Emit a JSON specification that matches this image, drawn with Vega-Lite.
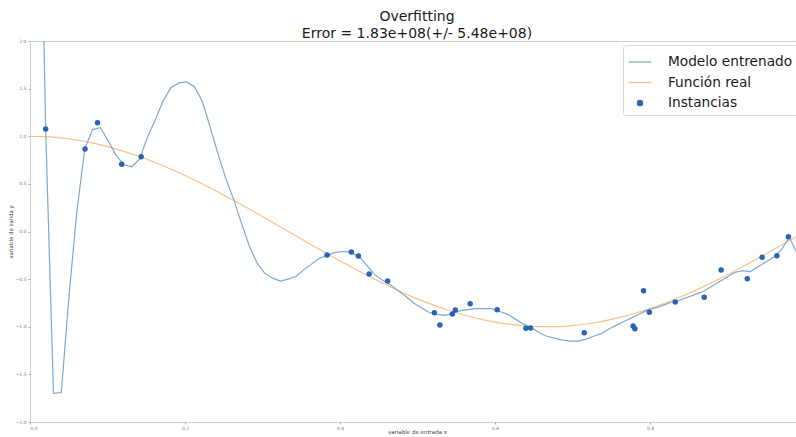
{
  "$schema": "https://vega.github.io/schema/vega-lite/v6.json",
  "autosize": "none",
  "width": 766,
  "height": 381,
  "padding": {"left": 30, "top": 41, "right": 0, "bottom": 15},
  "background": "white",
  "config": {
    "font": "DejaVu Sans",
    "view": {"stroke": "#cfcfcf", "strokeWidth": 1}
  },
  "title": {
    "text": ["Overfitting", "Error = 1.83e+08(+/- 5.48e+08)"],
    "anchor": "middle",
    "fontSize": 14,
    "fontWeight": "normal",
    "font": "DejaVu Sans",
    "color": "#1a1a1a",
    "lineHeight": 16.5,
    "offset": -2.5,
    "dx": 4
  },
  "datasets": {
    "modelo": [
      {"x": 0, "y": 12}, {"x": 0.0101, "y": 5.4}, {"x": 0.0202, "y": 1.07}, {"x": 0.0303, "y": -1.70},
      {"x": 0.0404, "y": -1.69}, {"x": 0.0505, "y": -0.66}, {"x": 0.0606, "y": 0.22}, {"x": 0.0707, "y": 0.87},
      {"x": 0.0808, "y": 1.07}, {"x": 0.0909, "y": 1.09}, {"x": 0.1010, "y": 0.95}, {"x": 0.1111, "y": 0.80},
      {"x": 0.1212, "y": 0.70}, {"x": 0.1313, "y": 0.68}, {"x": 0.1414, "y": 0.76}, {"x": 0.1515, "y": 0.99},
      {"x": 0.1616, "y": 1.17}, {"x": 0.1717, "y": 1.37}, {"x": 0.1818, "y": 1.51}, {"x": 0.1919, "y": 1.56},
      {"x": 0.2020, "y": 1.57}, {"x": 0.2121, "y": 1.52}, {"x": 0.2222, "y": 1.37}, {"x": 0.2323, "y": 1.10},
      {"x": 0.2424, "y": 0.82}, {"x": 0.2525, "y": 0.56}, {"x": 0.2626, "y": 0.34}, {"x": 0.2727, "y": 0.09},
      {"x": 0.2828, "y": -0.15}, {"x": 0.2929, "y": -0.33}, {"x": 0.3030, "y": -0.44}, {"x": 0.3131, "y": -0.49},
      {"x": 0.3232, "y": -0.52}, {"x": 0.3333, "y": -0.50}, {"x": 0.3434, "y": -0.47}, {"x": 0.3535, "y": -0.40},
      {"x": 0.3636, "y": -0.34}, {"x": 0.3737, "y": -0.28}, {"x": 0.3838, "y": -0.25}, {"x": 0.3939, "y": -0.22},
      {"x": 0.4040, "y": -0.21}, {"x": 0.4141, "y": -0.22}, {"x": 0.4242, "y": -0.26}, {"x": 0.4343, "y": -0.35},
      {"x": 0.4444, "y": -0.45}, {"x": 0.4545, "y": -0.51}, {"x": 0.4646, "y": -0.56}, {"x": 0.4747, "y": -0.62},
      {"x": 0.4848, "y": -0.68}, {"x": 0.4949, "y": -0.75}, {"x": 0.5051, "y": -0.80}, {"x": 0.5152, "y": -0.85},
      {"x": 0.5253, "y": -0.87}, {"x": 0.5354, "y": -0.88}, {"x": 0.5455, "y": -0.86}, {"x": 0.5556, "y": -0.83},
      {"x": 0.5657, "y": -0.82}, {"x": 0.5758, "y": -0.81}, {"x": 0.5859, "y": -0.81}, {"x": 0.5960, "y": -0.81},
      {"x": 0.6061, "y": -0.84}, {"x": 0.6162, "y": -0.87}, {"x": 0.6263, "y": -0.92}, {"x": 0.6364, "y": -0.97},
      {"x": 0.6465, "y": -1.01}, {"x": 0.6566, "y": -1.06}, {"x": 0.6667, "y": -1.10}, {"x": 0.6768, "y": -1.12},
      {"x": 0.6869, "y": -1.14}, {"x": 0.6970, "y": -1.15}, {"x": 0.7071, "y": -1.15}, {"x": 0.7172, "y": -1.13},
      {"x": 0.7273, "y": -1.10}, {"x": 0.7374, "y": -1.07}, {"x": 0.7475, "y": -1.02}, {"x": 0.7576, "y": -0.98},
      {"x": 0.7677, "y": -0.94}, {"x": 0.7778, "y": -0.90}, {"x": 0.7879, "y": -0.86}, {"x": 0.7980, "y": -0.82},
      {"x": 0.8081, "y": -0.80}, {"x": 0.8182, "y": -0.77}, {"x": 0.8283, "y": -0.74}, {"x": 0.8384, "y": -0.72},
      {"x": 0.8485, "y": -0.69}, {"x": 0.8586, "y": -0.66}, {"x": 0.8687, "y": -0.63}, {"x": 0.8788, "y": -0.58},
      {"x": 0.8889, "y": -0.53}, {"x": 0.8990, "y": -0.48}, {"x": 0.9091, "y": -0.43}, {"x": 0.9192, "y": -0.41},
      {"x": 0.9293, "y": -0.42}, {"x": 0.9394, "y": -0.37}, {"x": 0.9495, "y": -0.32}, {"x": 0.9596, "y": -0.27},
      {"x": 0.9697, "y": -0.19}, {"x": 0.9798, "y": -0.06}, {"x": 0.9899, "y": -0.23}, {"x": 1.0, "y": -0.75}
    ],
    "real": [
      {"x": 0.00, "y": 1.0}, {"x": 0.02, "y": 0.99556}, {"x": 0.04, "y": 0.98229}, {"x": 0.06, "y": 0.96029},
      {"x": 0.08, "y": 0.92978}, {"x": 0.10, "y": 0.89101}, {"x": 0.12, "y": 0.84433}, {"x": 0.14, "y": 0.79016},
      {"x": 0.16, "y": 0.72897}, {"x": 0.18, "y": 0.66131}, {"x": 0.20, "y": 0.58779}, {"x": 0.22, "y": 0.50904},
      {"x": 0.24, "y": 0.42578}, {"x": 0.26, "y": 0.33874}, {"x": 0.28, "y": 0.24869}, {"x": 0.30, "y": 0.15643},
      {"x": 0.32, "y": 0.06279}, {"x": 0.34, "y": -0.03141}, {"x": 0.36, "y": -0.12533}, {"x": 0.38, "y": -0.21814},
      {"x": 0.40, "y": -0.30902}, {"x": 0.42, "y": -0.39715}, {"x": 0.44, "y": -0.48175}, {"x": 0.46, "y": -0.56208},
      {"x": 0.48, "y": -0.63742}, {"x": 0.50, "y": -0.70711}, {"x": 0.52, "y": -0.77051}, {"x": 0.54, "y": -0.82708},
      {"x": 0.56, "y": -0.87631}, {"x": 0.58, "y": -0.91775}, {"x": 0.60, "y": -0.95106}, {"x": 0.62, "y": -0.97592},
      {"x": 0.64, "y": -0.99211}, {"x": 0.66, "y": -0.99951}, {"x": 0.68, "y": -0.99803}, {"x": 0.70, "y": -0.98769},
      {"x": 0.72, "y": -0.96858}, {"x": 0.74, "y": -0.94088}, {"x": 0.76, "y": -0.90483}, {"x": 0.78, "y": -0.86074},
      {"x": 0.80, "y": -0.80902}, {"x": 0.82, "y": -0.75011}, {"x": 0.84, "y": -0.68455}, {"x": 0.86, "y": -0.61291},
      {"x": 0.88, "y": -0.53583}, {"x": 0.90, "y": -0.45399}, {"x": 0.92, "y": -0.36812}, {"x": 0.94, "y": -0.27899},
      {"x": 0.96, "y": -0.18738}, {"x": 0.98, "y": -0.09411}, {"x": 1.00, "y": 0.0}
    ],
    "instancias": [
      {"x": 0.0202, "y": 1.076}, {"x": 0.0710, "y": 0.866}, {"x": 0.0871, "y": 1.142}, {"x": 0.1183, "y": 0.706},
      {"x": 0.1434, "y": 0.785}, {"x": 0.3834, "y": -0.247}, {"x": 0.4147, "y": -0.215}, {"x": 0.4237, "y": -0.257},
      {"x": 0.4376, "y": -0.446}, {"x": 0.4615, "y": -0.520}, {"x": 0.5218, "y": -0.853}, {"x": 0.5289, "y": -0.982},
      {"x": 0.5449, "y": -0.866}, {"x": 0.5488, "y": -0.824}, {"x": 0.5680, "y": -0.758}, {"x": 0.6028, "y": -0.821},
      {"x": 0.6399, "y": -1.016}, {"x": 0.6459, "y": -1.013}, {"x": 0.7152, "y": -1.062}, {"x": 0.7782, "y": -0.992},
      {"x": 0.7805, "y": -1.020}, {"x": 0.7917, "y": -0.622}, {"x": 0.7992, "y": -0.848}, {"x": 0.8326, "y": -0.740},
      {"x": 0.8700, "y": -0.691}, {"x": 0.8918, "y": -0.404}, {"x": 0.9256, "y": -0.496}, {"x": 0.9447, "y": -0.271},
      {"x": 0.9637, "y": -0.254}, {"x": 0.9786, "y": -0.055}
    ]
  },
  "encoding": {
    "x": {
      "field": "x", "type": "quantitative",
      "scale": {"domain": [0, 0.9884], "nice": false, "zero": false},
      "axis": {
        "title": "variable de entrada x",
        "values": [0, 0.2, 0.4, 0.6, 0.8],
        "format": ".1f",
        "grid": false,
        "domain": false,
        "labelFontSize": 4.5,
        "labelColor": "#777777",
        "tickColor": "#aaaaaa",
        "tickSize": 2,
        "labelPadding": 1,
        "titleFontSize": 5.5,
        "titleFontWeight": "normal",
        "titleColor": "#444444",
        "titlePadding": 0,
        "titleAnchor": "middle",
        "titleX": 387
      }
    },
    "y": {
      "field": "y", "type": "quantitative",
      "scale": {"domain": [-2, 2], "nice": false, "zero": false},
      "axis": {
        "title": "variable de salida y",
        "values": [-2, -1.5, -1, -0.5, 0, 0.5, 1, 1.5, 2],
        "format": ".1f",
        "grid": false,
        "domain": false,
        "labelFontSize": 4.5,
        "labelColor": "#777777",
        "tickColor": "#aaaaaa",
        "tickSize": 2,
        "labelPadding": 2,
        "titleFontSize": 5.5,
        "titleFontWeight": "normal",
        "titleColor": "#444444",
        "titlePadding": 2
      }
    },
    "color": {
      "field": "serie", "type": "nominal",
      "scale": {
        "domain": ["Modelo entrenado", "Función real", "Instancias"],
        "range": ["#7fa9cc", "#fdbf8a", "#2a62b8"]
      },
      "legend": {
        "title": null,
        "orient": "none",
        "legendX": 593,
        "legendY": 4,
        "fillColor": "white",
        "strokeColor": "#d8d8d8",
        "cornerRadius": 3,
        "padding": 5,
        "labelFontSize": 13.7,
        "labelFont": "DejaVu Sans",
        "labelColor": "#1a1a1a",
        "labelOffset": 16,
        "rowPadding": 1.5,
        "symbolSize": 441,
        "symbolStrokeWidth": 1.3,
        "encode": {
          "symbols": {
            "update": {
              "shape": {"signal": "datum.value === 'Instancias' ? 'circle' : 'stroke'"},
              "size": {"signal": "datum.value === 'Instancias' ? 26 : 500"},
              "fill": {"signal": "datum.value === 'Instancias' ? '#2a62b8' : 'transparent'"},
              "stroke": {"signal": "datum.value === 'Instancias' ? 'transparent' : (datum.value === 'Modelo entrenado' ? '#7fa9cc' : '#fdbf8a')"},
              "opacity": {"value": 1},
              "strokeWidth": {"value": 1.3}
            }
          }
        }
      }
    }
  },
  "layer": [
    {
      "data": {"name": "real"},
      "transform": [{"calculate": "'Función real'", "as": "serie"}],
      "mark": {"type": "line", "clip": true, "strokeWidth": 1.2, "interpolate": "monotone"}
    },
    {
      "data": {"name": "modelo"},
      "transform": [{"calculate": "'Modelo entrenado'", "as": "serie"}],
      "mark": {"type": "line", "clip": true, "strokeWidth": 1.2}
    },
    {
      "data": {"name": "instancias"},
      "transform": [{"calculate": "'Instancias'", "as": "serie"}],
      "mark": {"type": "point", "filled": true, "opacity": 1, "size": 30, "clip": true}
    }
  ]
}
